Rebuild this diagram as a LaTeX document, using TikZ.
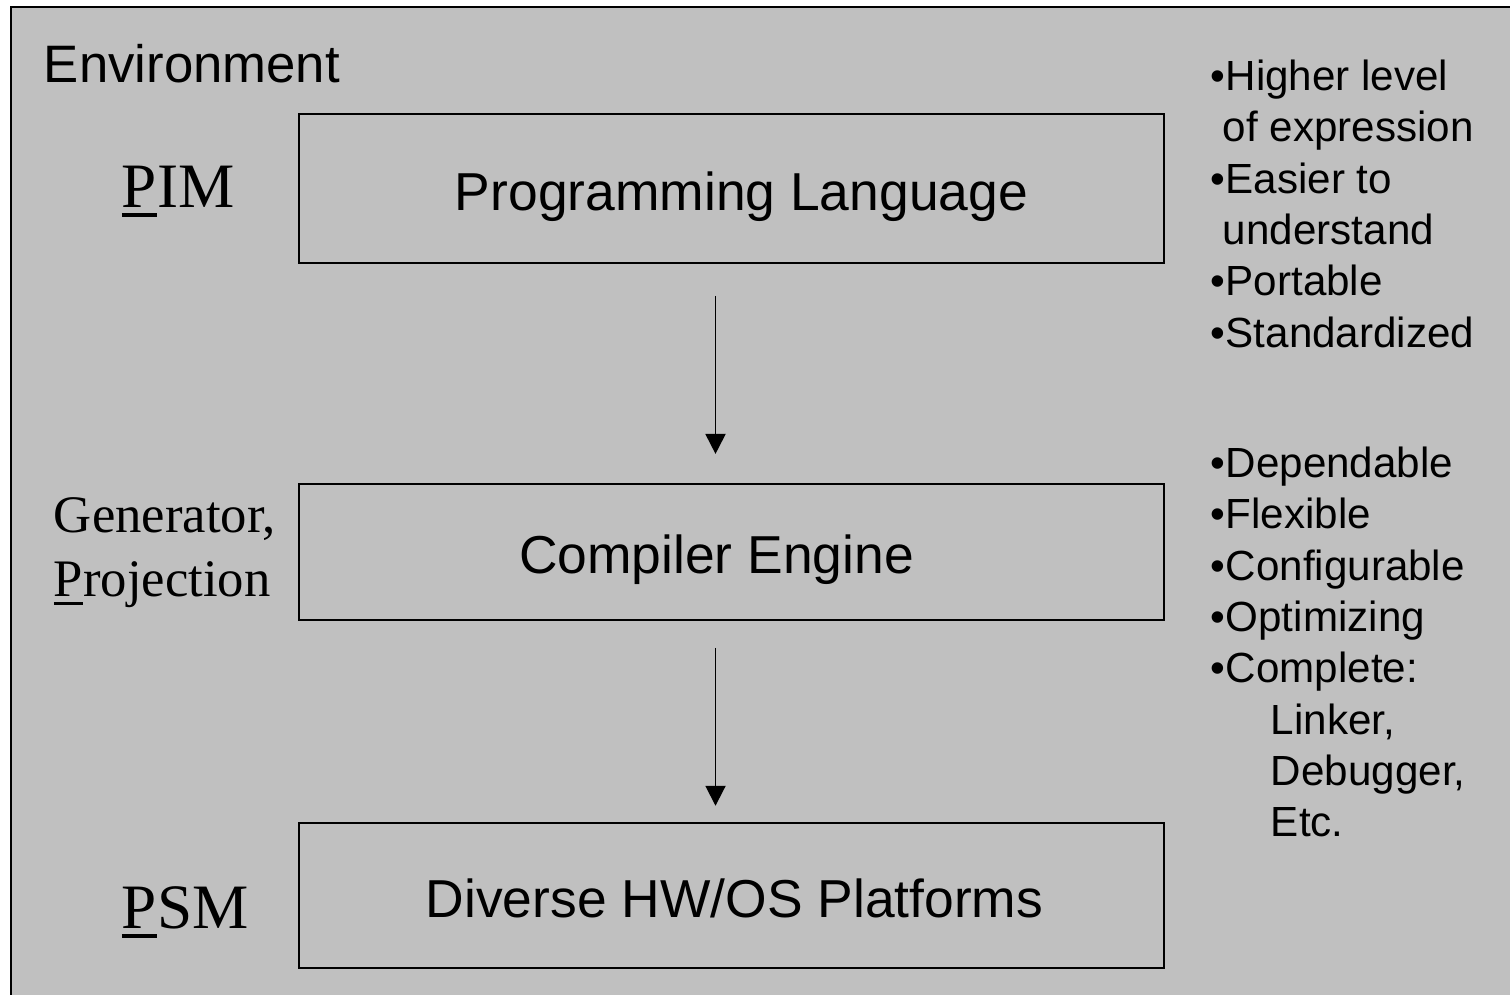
\documentclass[tikz,border=0pt]{standalone}
\usepackage{fontspec}
\setmainfont{Liberation Sans}
\newfontfamily\timesfont{Liberation Serif}
\usepackage{xcolor}
\usetikzlibrary{positioning,arrows.meta}

\definecolor{panelgray}{HTML}{C0C0C0}
\newcommand\ulfirst[1]{\setbox0\hbox{#1}\rlap{\rule[-0.16em]{\wd0}{0.065em}}\box0}

\begin{document}
\begin{tikzpicture}[x=0.02cm, y=-0.02cm, >={Triangle[width=0.4cm,length=0.4cm]}, line width=1.1pt]
\tikzset{
  layer/.style={draw, minimum width=17.3cm, text height=27.4pt, text depth=2.4pt, font=\fontsize{30.4}{36}\selectfont},
  model/.style={inner sep=0pt, font=\timesfont\fontsize{36}{40}\selectfont},
  notes/.style={align=left, anchor=north west, inner sep=0pt, font=\fontsize{24}{29.2}\selectfont},
}

\useasboundingbox (0,0) rectangle (1510,994);
\clip (0,0) rectangle (1510,994);
\draw[fill=panelgray] (11,7) rectangle (1530,1020);

\node[anchor=base west, inner sep=0pt, font=\fontsize{30}{36}\selectfont] (env) at (43,82) {Environment};

\node[layer, minimum height=2.98cm] (prog) at (731.5,188.5) {\hspace*{0.4cm}Programming Language};
\node[layer, minimum height=2.72cm, below=4.38cm of prog] (comp) {Compiler Engine\hspace*{0.6cm}};
\node[layer, minimum height=2.9cm, below=4.02cm of comp] (plat) {\hspace*{0.12cm}Diverse HW/OS Platforms};

\node[model, anchor=base west] (pim) at (121,207) {\ulfirst{P}IM};
\node[model, anchor=north west, align=left, font=\timesfont\fontsize{30}{36.3}\selectfont] (gen) at (53,497) {Generator,\\\ulfirst{P}rojection};
\node[model, anchor=base west] (psm) at (121,928) {\ulfirst{P}SM};

\node[notes] (pros) at (1210,59) {•Higher level\\\hspace*{0.24cm}of expression\\•Easier to\\\hspace*{0.24cm}understand\\•Portable\\•Standardized};
\node[notes] (feats) at (1210,446) {•Dependable\\•Flexible\\•Configurable\\•Optimizing\\•Complete:\\\hspace*{1.2cm}Linker,\\\hspace*{1.2cm}Debugger,\\\hspace*{1.2cm}Etc.};

\draw[->] ([xshift=-0.32cm, yshift=-0.64cm]prog.south) -- ([xshift=-0.32cm, yshift=0.58cm]comp.north);
\draw[->] ([xshift=-0.32cm, yshift=-0.54cm]comp.south) -- ([xshift=-0.32cm, yshift=0.32cm]plat.north);

\end{tikzpicture}
\end{document}
